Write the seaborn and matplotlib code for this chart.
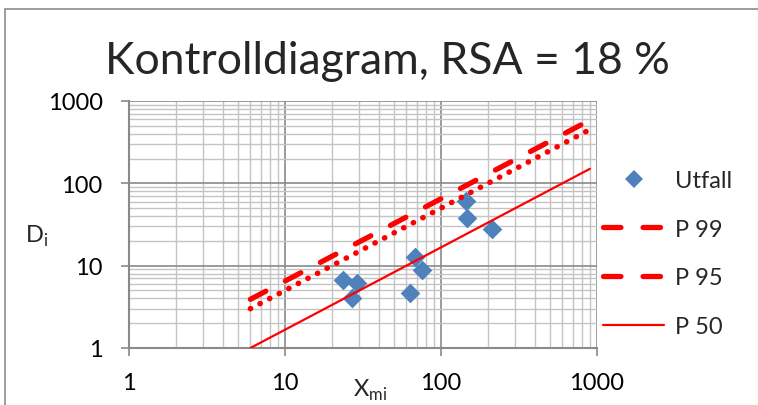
import matplotlib
matplotlib.use('Agg')
import matplotlib.pyplot as plt
import seaborn as sns
from matplotlib.lines import Line2D
from matplotlib.patches import Rectangle
from matplotlib.ticker import LogLocator, NullFormatter, FixedLocator, FixedFormatter

# ---- data ----
x_utfall = [23.4, 29.0, 27.0, 68.0, 76.0, 63.0, 144.0, 146.0, 211.0]
d_utfall = [6.7, 6.1, 4.1, 12.6, 8.9, 4.7, 61.0, 38.0, 28.0]

x_line = [6.0, 900.0]
p99 = [3.9, 585.0]
p95 = [3.0, 450.0]
p50 = [1.0, 150.0]

tick_vals = [1, 10, 100, 1000]
tick_labels = ['1', '10', '100', '1000']

title = 'Kontrolldiagram, RSA = 18 %'
series_labels = ['Utfall', 'P 99', 'P 95', 'P 50']

sns.set_theme(style='white')
plt.rcParams['font.family'] = ['Lato', 'DejaVu Sans']
plt.rcParams['mathtext.fontset'] = 'custom'
plt.rcParams['mathtext.rm'] = 'Lato'

W, H = 758, 406
fig = plt.figure(figsize=(W / 100, H / 100), dpi=100)
fig.patch.set_facecolor('white')

# outer chart border (only left and top visible)
fig.patches.append(Rectangle((5 / W, -0.2), 2.0, 1.2 - 10 / H, transform=fig.transFigure,
                             fill=False, edgecolor='#8c8c8c', linewidth=1.2))

ax = fig.add_axes([129 / W, 1 - 349 / H, (597 - 129) / W, (349 - 102) / H])
ax.set_xscale('log')
ax.set_yscale('log')
ax.set_xlim(1, 1000)
ax.set_ylim(1, 1000)

ax.xaxis.set_major_locator(FixedLocator(tick_vals))
ax.xaxis.set_major_formatter(FixedFormatter(tick_labels))
ax.yaxis.set_major_locator(FixedLocator(tick_vals))
ax.yaxis.set_major_formatter(FixedFormatter(tick_labels))
for a in (ax.xaxis, ax.yaxis):
    a.set_minor_locator(LogLocator(base=10, subs=range(2, 10), numticks=20))
    a.set_minor_formatter(NullFormatter())

ax.grid(True, which='minor', color='#c4c4c4', linewidth=1.0)
ax.grid(True, which='major', color='#8a8a8a', linewidth=1.2)
ax.set_axisbelow(True)

for s in ['top', 'right']:
    ax.spines[s].set_visible(False)
for s in ['left', 'bottom']:
    ax.spines[s].set_color('#8a8a8a')
    ax.spines[s].set_linewidth(1.5)

ax.tick_params(axis='both', which='major', direction='out', length=6, width=1.2,
               color='#8a8a8a', labelsize=17, labelcolor='black')
ax.tick_params(axis='y', which='major', pad=13, left=True)
ax.tick_params(axis='x', which='major', pad=11, bottom=True)
ax.tick_params(axis='both', which='minor', length=0)

blue = '#4F81BD'
red = '#FF0000'

sns.scatterplot(x=x_utfall, y=d_utfall, ax=ax, marker='D', s=100, color=blue,
                linewidth=0, zorder=3, legend=False)
sns.lineplot(x=x_line, y=p99, ax=ax, color=red, linewidth=3.8, sort=False,
             linestyle=(0, (3.3, 4.2)), dash_capstyle='round', zorder=4, legend=False)
sns.lineplot(x=x_line, y=p95, ax=ax, color=red, linewidth=4.0, sort=False,
             linestyle=(0, (0.05, 1.9)), dash_capstyle='round', zorder=4, legend=False)
sns.lineplot(x=x_line, y=p50, ax=ax, color=red, linewidth=1.6, sort=False,
             zorder=4, legend=False)

ax.set_xlabel('')
ax.set_ylabel('')

fig.text(387 / W, 1 - 62 / H, title, ha='center', va='center', fontsize=32)
fig.text(37 / W, 1 - 236 / H, r'D$_\mathregular{i}$', ha='center', va='center', fontsize=17)
fig.text(370 / W, 1 - 390 / H, r'X$_\mathregular{mi}$', ha='center', va='center', fontsize=17)

handles = [
    Line2D([], [], linestyle='none', marker='D', markersize=9.5, color=blue, markeredgewidth=0),
    Line2D([], [], color=red, linewidth=3.8, linestyle=(0, (3.3, 4.2)), dash_capstyle='round'),
    Line2D([], [], color=red, linewidth=3.8, linestyle=(0, (3.3, 4.2)), dash_capstyle='round'),
    Line2D([], [], color=red, linewidth=1.6),
]
fig.legend(handles, series_labels, loc='upper left', bbox_to_anchor=(603 / W, 1 - 171 / H),
           frameon=False, fontsize=17, handlelength=2.6, handletextpad=0.45,
           labelspacing=1.17, borderaxespad=0, borderpad=0)

fig.savefig('out.png', dpi=100)
